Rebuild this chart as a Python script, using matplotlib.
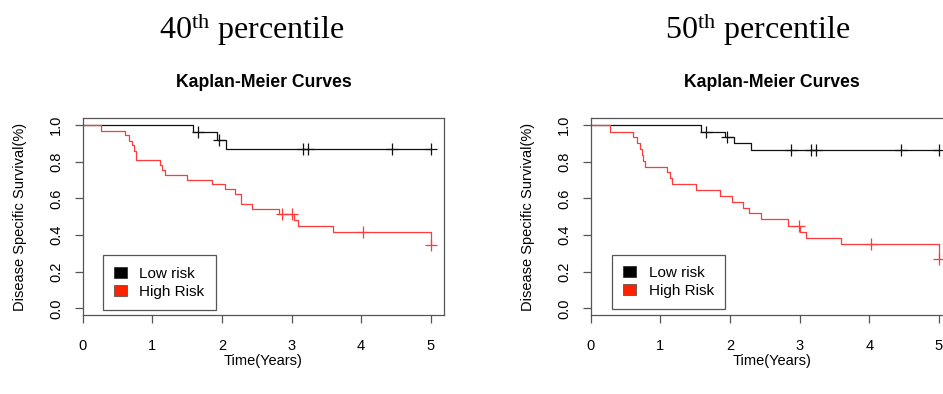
import numpy as np
import matplotlib
matplotlib.use("Agg")
import matplotlib.pyplot as plt
from matplotlib.patches import Patch

plt.rcParams['font.family'] = ['Liberation Sans', 'DejaVu Sans']
plt.rcParams['mathtext.fontset'] = 'custom'
plt.rcParams['mathtext.rm'] = 'Liberation Serif'

# ---- data (time in years, survival fraction) ----
t_end = 5.0

# 40th percentile split
low40_t = [0, 1.585, 1.93, 2.06]
low40_s = [1.0, 0.960, 0.920, 0.871]
low40_cens = [1.657, 1.954, 3.16, 3.23, 4.45, 5.0]

high40_t = [0, 0.263, 0.613, 0.66, 0.708, 0.742, 0.77, 1.106, 1.14, 1.18, 1.503,
            1.858, 2.05, 2.184, 2.28, 2.43, 2.825, 3.03, 3.10, 3.60, 5.0]
high40_s = [1.0, 0.966, 0.944, 0.914, 0.889, 0.857, 0.807, 0.783, 0.756, 0.729, 0.702,
            0.678, 0.649, 0.624, 0.567, 0.540, 0.513, 0.482, 0.449, 0.416, 0.345]
high40_cens = [2.86, 3.0, 4.03, 5.0]

# 50th percentile split
low50_t = [0, 1.59, 1.925, 2.055, 2.295]
low50_s = [1.0, 0.962, 0.933, 0.902, 0.862]
low50_cens = [1.66, 1.96, 2.87, 3.17, 3.23, 4.45, 5.0]

high50_t = [0, 0.273, 0.608, 0.657, 0.704, 0.737, 0.75, 0.776, 1.10, 1.135, 1.17,
            1.509, 1.853, 2.035, 2.18, 2.27, 2.44, 2.83, 3.01, 3.095, 3.60, 5.0]
high50_s = [1.0, 0.962, 0.934, 0.902, 0.869, 0.835, 0.805, 0.771, 0.742, 0.711, 0.678,
            0.647, 0.611, 0.580, 0.549, 0.518, 0.486, 0.451, 0.418, 0.382, 0.349, 0.267]
high50_cens = [2.99, 4.03, 5.0]

panel_titles = [r'$\mathregular{40^{th}}$ percentile', r'$\mathregular{50^{th}}$ percentile']
legend_labels = ['Low risk', 'High Risk']
xticks = [0, 1, 2, 3, 4, 5]
yticks = [0.0, 0.2, 0.4, 0.6, 0.8, 1.0]

RED = '#ff3a3a'
GRAY = '#555555'
W, H = 943, 394


def km(ax, t, s, cens, color):
    tt = np.array(t + [t_end])
    ss = np.array(s + [s[-1]])
    ax.step(tt, ss, where='post', color=color, lw=0.9)
    c = np.array(cens)
    idx = np.searchsorted(tt, c, side='right') - 1
    ax.plot(c, ss[idx], ls='none', marker='+', ms=8, mew=0.9, color=color)


fig = plt.figure(figsize=(W / 100, H / 100), dpi=100)

panels = [(82.7, low40_t, low40_s, low40_cens, high40_t, high40_s, high40_cens, 0.0553, 0.0254),
          (590.8, low50_t, low50_s, low50_cens, high50_t, high50_s, high50_cens, 0.0586, 0.029)]

for i, (x0, lt, ls_, lc, ht, hs, hc, lgx, lgy) in enumerate(panels):
    ax = fig.add_axes([x0 / W, 1 - 315 / H, 361.6 / W, 196.7 / H])
    km(ax, lt, ls_, lc, '#111111')
    km(ax, ht, hs, hc, RED)
    ax.set_xlim(0, 5.195)
    ax.set_ylim(-0.0366, 1.0366)
    ax.set_xticks(xticks)
    ax.set_xticklabels([str(v) for v in xticks])
    ax.set_yticks(yticks)
    ax.set_yticklabels(['%.1f' % v for v in yticks], rotation=90, va='center')
    ax.tick_params(direction='out', length=6, width=0.9, color=GRAY,
                   labelsize=10.5, colors='black')
    ax.tick_params(axis='x', pad=11)
    ax.tick_params(axis='y', pad=8)
    for sp in ax.spines.values():
        sp.set_color(GRAY)
        sp.set_linewidth(0.9)
    ax.set_xlabel('Time(Years)', fontsize=10.5, labelpad=1)
    ax.set_ylabel('Disease Specific Survival(%)', fontsize=10.5, labelpad=16)

    handles = [Patch(facecolor='black', edgecolor='#222222', lw=0.5),
               Patch(facecolor='#ff2200', edgecolor='#444444', lw=0.5)]
    leg = ax.legend(handles, legend_labels, loc='lower left', bbox_to_anchor=(lgx, lgy),
                    borderaxespad=0, fancybox=False, framealpha=1, edgecolor=GRAY,
                    fontsize=11, handlelength=0.85, handleheight=0.75,
                    handletextpad=0.8, labelspacing=0.25, borderpad=0.75)
    leg.get_frame().set_linewidth(0.9)

    cx = (x0 + 361.6 / 2) / W
    fig.text(cx, 1 - 87 / H, 'Kaplan-Meier Curves', ha='center', va='baseline',
             fontsize=12.7, fontweight='bold')

fig.text(252 / W, 1 - 39.5 / H, panel_titles[0], ha='center', va='baseline',
         fontsize=23, family='Liberation Serif')
fig.text(758 / W, 1 - 39.5 / H, panel_titles[1], ha='center', va='baseline',
         fontsize=23, family='Liberation Serif')

fig.savefig('out.png', dpi=100)
